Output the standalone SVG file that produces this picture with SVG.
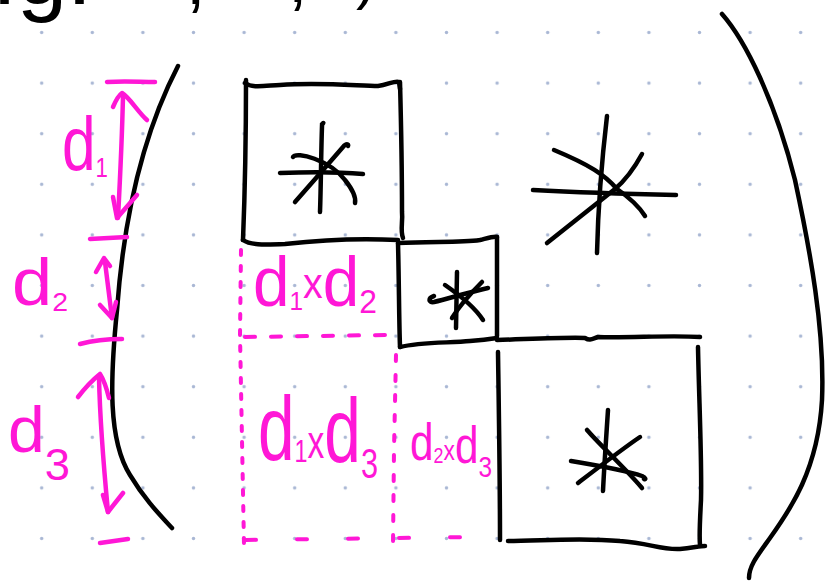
<svg xmlns="http://www.w3.org/2000/svg" width="827" height="581" viewBox="0 0 827 581">
<defs>
<pattern id="dots" patternUnits="userSpaceOnUse" x="16.4" y="7.2" width="50.6" height="50.6">
<circle cx="25.3" cy="25.3" r="1.7" fill="#a9b7d4"/>
</pattern>
<style>
.ink{fill:none;stroke:#000;stroke-width:4.5;stroke-linecap:round;stroke-linejoin:round}
.pk{fill:none;stroke:#ff17d6;stroke-width:4.5;stroke-linecap:round;stroke-linejoin:round}
.dash{fill:none;stroke:#ff17d6;stroke-width:4;stroke-linecap:round}
.pt{fill:#ff17d6;font-family:"Liberation Sans",Arial,sans-serif}
.bt{fill:#000;font-family:"Liberation Sans",Arial,sans-serif}
</style>
</defs>
<rect width="827" height="581" fill="#fff"/>
<rect width="827" height="581" fill="url(#dots)"/>

<g id="header-fragment">
<text class="bt" x="-58" y="4" font-size="90">e.g.</text>
<text class="bt" x="186" y="4" font-size="70">,</text>
<text class="bt" x="288" y="2" font-size="70">,</text>
<text class="bt" x="356" y="-2" font-size="60">)</text>
</g>

<g id="brackets">
<path class="ink" d="M178,66 C150,120 125,200 117,310 C110,380 108,440 130,475 C145,500 160,515 172,528"/>
<path class="ink" d="M722,14 C745,40 775,100 795,180 C810,250 825,330 822,400 C818,470 790,510 770,538 C757,556 749,566 749,578"/>
</g>

<g id="block1">
<path class="ink" d="M245,83 C252,88 262,86 280,85 C320,82 360,86 378,86 C388,85 395,80 399,82 L400,89"/>
<path class="ink" d="M400,82 C401,120 402,180 402,212 C403,222 400,230 403,238"/>
<path class="ink" d="M246,80 C246,130 245,190 243,240"/>
<path class="ink" d="M243,240 C250,245 262,245 285,244 C320,240 360,238 398,240"/>
<path class="ink" d="M322,124 C325,122 322,123 322,126 C321,155 321,185 320,212"/>
<path class="ink" d="M280,173 C305,172 340,172 363,174"/>
<path class="ink" d="M295,202 C310,185 330,162 343,147 C346,143 349,144 348,146"/>
<path class="ink" d="M293,157 C296,151 330,160 345,180 C353,190 356,198 355,203"/>
</g>

<g id="block2">
<path class="ink" d="M398,243 C430,241 460,243 480,240 C488,238 494,236 497,237"/>
<path class="ink" d="M398,243 C399,280 399,320 400,347"/>
<path class="ink" d="M497,237 C497,270 497,305 497,336"/>
<path class="ink" d="M400,347 C420,342 450,343 470,341 C482,340 490,339 497,338"/>
<path class="ink" d="M457,272 L456,328"/>
<path class="ink" d="M434,296 C428,298 428,303 434,302 C450,298 470,292 488,288"/>
<path class="ink" d="M452,318 C460,305 472,292 482,282"/>
<path class="ink" d="M445,285 C458,294 474,306 483,320"/>
</g>

<g id="block3">
<path class="ink" d="M497,340 C530,339 570,337 585,338 C590,341 592,339 598,337 C630,338 670,335 700,337"/>
<path class="ink" d="M698,347 C699,400 702,460 701,500 C700,520 699,535 700,545"/>
<path class="ink" d="M498,352 C499,420 500,480 500,540"/>
<path class="ink" d="M508,541 C540,541 580,537 620,541 C650,543 660,550 680,549 C692,548 700,546 705,546"/>
<path class="ink" d="M608,410 C606,440 604,470 603,491"/>
<path class="ink" d="M571,461 C595,465 625,470 642,476 C646,478 646,480 644,479"/>
<path class="ink" d="M578,483 C595,470 625,447 640,437"/>
<path class="ink" d="M587,430 C600,445 625,468 642,488"/>
</g>

<g id="block-offdiag">
<path class="ink" d="M607,116 C603,150 598,210 597,253"/>
<path class="ink" d="M533,190 C570,192 630,194 676,195"/>
<path class="ink" d="M547,243 L615,189 C628,178 636,165 642,154"/>
<path class="ink" d="M554,150 C590,165 605,175 617,189 C630,198 640,208 645,216"/>
</g>

<g id="lower-blocks">
<path class="dash" stroke-dasharray="5 11" d="M241,250 L240,335 L242,440 L244,545"/>
<path class="dash" stroke-dasharray="10 16" d="M245,337 L385,335"/>
<path class="dash" stroke-dasharray="6 14" d="M396,355 L394,450 L393,545"/>
<path class="dash" stroke-dasharray="10 41" d="M246,540 L475,537"/>
<text class="pt" x="253" y="306" font-size="70" textLength="124" lengthAdjust="spacingAndGlyphs">d<tspan font-size="26" y="310">1</tspan><tspan font-size="42" y="298">x</tspan><tspan y="306">d</tspan><tspan font-size="34" y="313">2</tspan></text>
<text class="pt" x="258" y="460" font-size="90" textLength="120" lengthAdjust="spacingAndGlyphs">d<tspan font-size="32" y="462">1</tspan><tspan font-size="46" y="458">x</tspan><tspan y="462">d</tspan><tspan font-size="42" y="478">3</tspan></text>
<text class="pt" x="410" y="460" font-size="52" textLength="82" lengthAdjust="spacingAndGlyphs">d<tspan font-size="22" y="463">2</tspan><tspan font-size="28" y="460">x</tspan><tspan y="463">d</tspan><tspan font-size="30" y="477">3</tspan></text>
</g>

<g id="dimensions">
<path class="pk" d="M107,82 C125,81 140,82 155,82"/>
<path class="pk" d="M123,96 C122,140 120,180 118,218"/>
<path class="pk" d="M113,107 C116,100 119,95 122,93 C130,98 138,112 147,120"/>
<path class="pk" d="M113,197 L117,218 L137,195"/>
<path class="pk" d="M90,239 L127,237"/>
<path class="pk" d="M96,272 L104,258 L110,266"/>
<path class="pk" d="M105,262 L112,318"/>
<path class="pk" d="M100,305 L112,318 L116,302"/>
<path class="pk" d="M80,344 C95,340 110,339 122,339"/>
<path class="pk" d="M78,397 C85,388 95,378 100,374 C104,380 107,390 109,398"/>
<path class="pk" d="M99,378 C100,420 104,470 108,512"/>
<path class="pk" d="M103,495 L108,512 L123,493"/>
<path class="pk" d="M100,543 L128,539"/>
<text class="pt" x="62" y="170" font-size="76" textLength="46" lengthAdjust="spacingAndGlyphs">d<tspan font-size="28" y="177">1</tspan></text>
<text class="pt" x="12" y="305" font-size="66" textLength="56" lengthAdjust="spacingAndGlyphs">d<tspan font-size="26" y="311">2</tspan></text>
<text class="pt" x="8" y="452" font-size="64" textLength="62" lengthAdjust="spacingAndGlyphs">d<tspan font-size="44" y="480">3</tspan></text>
</g>
</svg>
